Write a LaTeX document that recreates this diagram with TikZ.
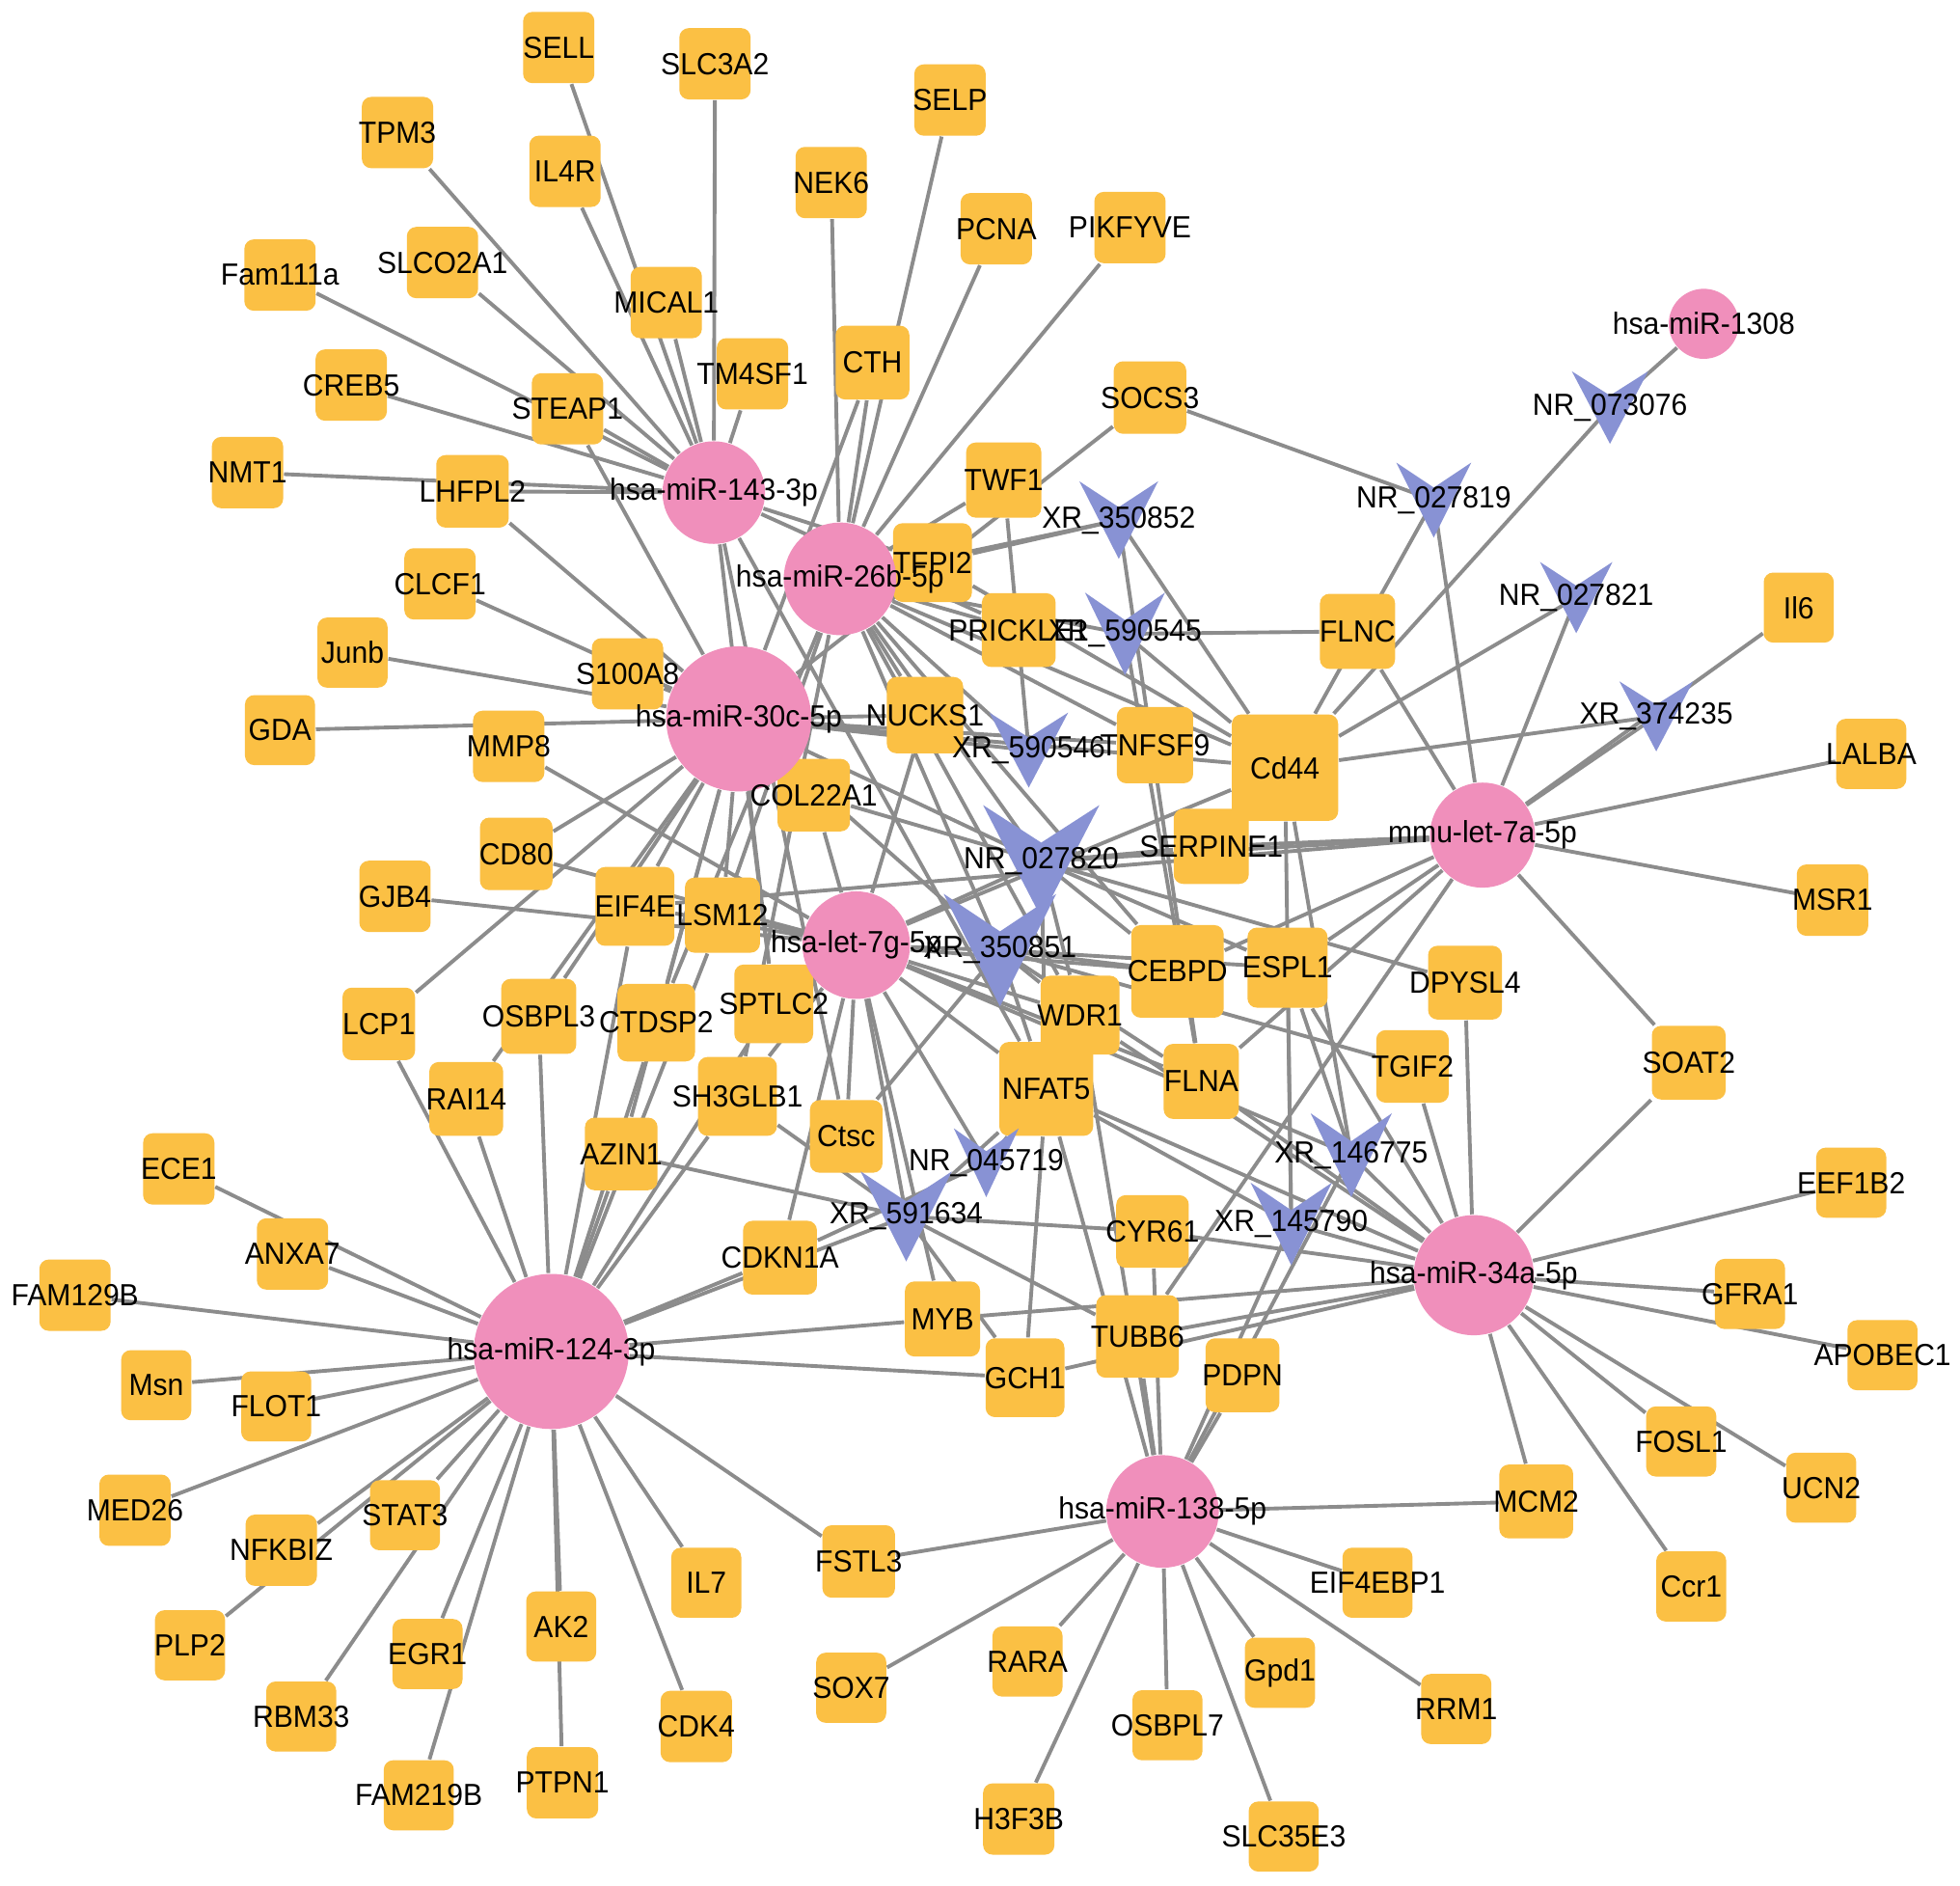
\documentclass[tikz,border=0pt]{standalone}
\usepackage{fontspec}
\setmainfont{Liberation Sans}[FakeStretch=0.95]
\pgfdeclarelayer{back}
\pgfdeclarelayer{bg}
\pgfsetlayers{back,bg,main}
\definecolor{genec}{RGB}{251,192,68}
\definecolor{mirc}{RGB}{240,143,187}
\definecolor{lncc}{RGB}{136,146,212}
\definecolor{edgec}{RGB}{140,140,140}
\newcommand\lncshape[4]{\fill[lncc] ({#1-#3/2},{#2-#4/2}) -- (#1,{#2-#4/6}) -- ({#1+#3/2},{#2-#4/2}) -- (#1,{#2+#4/2}) -- cycle;}
\def\genelist{sell/447/38/57/SELL, slc3a2/572/51/57/SLC3A2, selp/760/80/57/SELP, tpm3/318/106/57/TPM3, il4r/452/137/57/IL4R, nek6/665/146/57/NEK6, pcna/797/183/57/PCNA, pikfyve/904/182/57/PIKFYVE, fam111a/224/220/57/Fam111a, slco2a1/354/210/57/SLCO2A1, mical1/533/242/57/MICAL1, cth/698/290/59/CTH, tm4sf1/602/299/57/TM4SF1, creb5/281/308/57/CREB5, steap1/454/327/57/STEAP1, socs3/920/318/58/SOCS3, nmt1/198/378/57/NMT1, lhfpl2/378/393/58/LHFPL2, twf1/803/384/60/TWF1, tfpi2/746/450/63/TFPI2, clcf1/352/467/57/CLCF1, prickle1/815/504/59/PRICKLE1, flnc/1086/505/60/FLNC, il6/1439/486/56/Il6, junb/282/522/56/Junb, s100a8/502/539/57/S100A8, nucks1/740/572/61/NUCKS1, gda/224/584/56/GDA, mmp8/407/597/57/MMP8, tnfsf9/924/596/61/TNFSF9, cd44/1028/614/85/Cd44, lalba/1497/603/56/LALBA, col22a1/651/636/58/COL22A1, cd80/413/683/58/CD80, serpine1/969/677/60/SERPINE1, gjb4/316/717/57/GJB4, eif4e/508/725/63/EIF4E, lsm12/578/732/60/LSM12, msr1/1466/720/57/MSR1, cebpd/942/777/74/CEBPD, espl1/1030/774/64/ESPL1, dpysl4/1172/786/59/DPYSL4, lcp1/303/819/58/LCP1, osbpl3/431/813/60/OSBPL3, ctdsp2/525/818/62/CTDSP2, sptlc2/619/803/63/SPTLC2, wdr1/864/812/63/WDR1, nfat5/837/871/75/NFAT5, flna/961/865/60/FLNA, tgif2/1130/853/58/TGIF2, soat2/1351/850/59/SOAT2, rai14/373/879/59/RAI14, sh3glb1/590/877/63/SH3GLB1, ctsc/677/909/58/Ctsc, azin1/497/923/58/AZIN1, ece1/143/935/57/ECE1, eef1b2/1481/946/56/EEF1B2, cyr61/922/985/58/CYR61, cdkn1a/624/1006/59/CDKN1A, anxa7/234/1003/57/ANXA7, fam129b/60/1036/57/FAM129B, gfra1/1400/1035/56/GFRA1, myb/754/1055/60/MYB, tubb6/910/1069/66/TUBB6, apobec1/1506/1084/56/APOBEC1, msn/125/1108/56/Msn, flot1/221/1125/56/FLOT1, gch1/820/1102/63/GCH1, pdpn/994/1100/59/PDPN, fosl1/1345/1153/56/FOSL1, ucn2/1457/1190/56/UCN2, med26/108/1208/57/MED26, stat3/324/1212/56/STAT3, mcm2/1229/1201/59/MCM2, nfkbiz/225/1240/57/NFKBIZ, il7/565/1266/56/IL7, fstl3/687/1249/58/FSTL3, eif4ebp1/1102/1266/56/EIF4EBP1, ccr1/1353/1269/56/Ccr1, plp2/152/1316/56/PLP2, egr1/342/1323/56/EGR1, ak2/449/1301/56/AK2, rara/822/1329/56/RARA, gpd1/1024/1338/56/Gpd1, sox7/681/1350/56/SOX7, rbm33/241/1373/56/RBM33, cdk4/557/1381/57/CDK4, osbpl7/934/1380/56/OSBPL7, rrm1/1165/1367/56/RRM1, fam219b/335/1436/56/FAM219B, ptpn1/450/1426/57/PTPN1, h3f3b/815/1455/57/H3F3B, slc35e3/1027/1469/56/SLC35E3}
\def\mirlist{mA/571/394/41/hsa-miR-143-3p, mB/672/463/45/hsa-miR-26b-5p, mC/591/575/58/hsa-miR-30c-5p, mD/685/756/43/hsa-let-7g-5p, mE/1186/668/42/mmu-let-7a-5p, mF/1179/1020/48/hsa-miR-34a-5p, mG/441/1081/62/hsa-miR-124-3p, mH/930/1209/45/hsa-miR-138-5p, mI/1363/259/28/hsa-miR-1308}
\def\lnclist{nr073076/1288/326/61/58/NR\_073076, nr027819/1147/400/60/60/NR\_027819, xr350852/895/416/63/62/XR\_350852, nr027821/1261/478/58/57/NR\_027821, xr590545/900/507/64/66/XR\_590545, xr374235/1325/573/59/56/XR\_374235, xr590546/823/600/63/60/XR\_590546, nr027820/833/689/93/90/NR\_027820, xr350851/800/760/90/90/XR\_350851, nr045719/789/930/52/55/NR\_045719, xr591634/725/973/73/72/XR\_591634, xr146775/1081/924/65/67/XR\_146775, xr145790/1033/979/65/66/XR\_145790}
\begin{document}
\begin{tikzpicture}[x=0.01cm,y=-0.01cm,
  gn/.style={rectangle,rounded corners=0.075cm,fill=genec,inner sep=0pt,minimum size={#1*0.1mm}},
  mr/.style={circle,fill=mirc,inner sep=0pt,minimum size={#1*0.2mm}},
  vn/.style={circle,inner sep=0pt,minimum size=0pt},
  ed/.style={draw=edgec,line width=0.85pt},
  lb/.style={inner sep=0pt,font=\fontsize{6.95}{8}\selectfont,text=black}]
\useasboundingbox (0,0) rectangle (1568,1508);
\begin{pgfonlayer}{back}
\fill[white] (0,0) rectangle (1568,1508);
\end{pgfonlayer}
% nodes
\foreach \n/\x/\y/\s/\t in \genelist {\node[gn=\s] (\n) at (\x,\y) {};}
\foreach \n/\x/\y/\r/\t in \mirlist {\node[mr=\r] (\n) at (\x,\y) {};}
\foreach \n/\x/\y/\w/\h/\t in \lnclist {\node[vn] (\n) at (\x,\y) {}; \lncshape{\x}{\y}{\w}{\h}}
% edges
\begin{pgfonlayer}{bg}
\foreach \b in {sell,slc3a2,tpm3,il4r,mical1,tm4sf1,fam111a,slco2a1,creb5,steap1,nmt1,lhfpl2,sptlc2,ctsc,nfat5,tfpi2,prickle1} \draw[ed] (mA) -- (\b);
\foreach \b in {nek6,selp,pcna,pikfyve,twf1,cth,tfpi2,xr350852,prickle1,xr590545,nucks1,xr590546,nr027820,xr350851,cebpd,wdr1,ctdsp2,cd44,tnfsf9,lsm12,sh3glb1} \draw[ed] (mB) -- (\b);
\foreach \b in {clcf1,junb,s100a8,gda,cd80,lcp1,lhfpl2,steap1,socs3,cth,col22a1,nucks1,eif4e,lsm12,rai14,osbpl3,ctdsp2,xr590546,nr027820,xr350851,tnfsf9,cd44,azin1,sptlc2} \draw[ed] (mC) -- (\b);
\foreach \b in {mmp8,cd80,gjb4,eif4e,lsm12,sptlc2,sh3glb1,ctsc,cdkn1a,xr591634,myb,xr350851,nr027820,wdr1,cebpd,nfat5,col22a1,flna,xr146775,nr045719,nucks1,cd44} \draw[ed] (mD) -- (\b);
\foreach \b in {il6,xr374235,lalba,msr1,soat2,nr027819,nr027821,flnc,serpine1,espl1,cebpd,nr027820,eif4e,flna,tubb6} \draw[ed] (mE) -- (\b);
\foreach \b in {dpysl4,tgif2,eef1b2,gfra1,apobec1,fosl1,ucn2,mcm2,ccr1,soat2,myb,tubb6,gch1,cyr61,xr145790,xr146775,espl1,flna,nfat5,wdr1} \draw[ed] (mF) -- (\b);
\foreach \b in {lcp1,rai14,osbpl3,azin1,ece1,anxa7,fam129b,msn,flot1,med26,nfkbiz,plp2,stat3,rbm33,egr1,fam219b,ak2,ptpn1,cdk4,il7,fstl3,cdkn1a,xr591634,myb,gch1,sh3glb1,eif4e,ctdsp2,lsm12,sptlc2} \draw[ed] (mG) -- (\b);
\foreach \b in {fstl3,sox7,rara,h3f3b,osbpl7,slc35e3,gpd1,rrm1,eif4ebp1,mcm2,pdpn,xr145790,xr146775,tubb6,nfat5,wdr1,cyr61} \draw[ed] (mH) -- (\b);
\foreach \a/\b in {mI/nr073076,nr073076/cd44,nr027819/socs3,nr027819/cd44,nr027821/cd44,xr374235/cd44,xr350852/tfpi2,xr350852/cd44,xr350852/flna,xr590545/flnc,xr590545/flna,xr590545/cd44,xr590546/twf1,nr027820/serpine1,nr027820/cebpd,nr027820/espl1,nr027820/wdr1,nr027820/nfat5,nr027820/dpysl4,nr027820/col22a1,xr350851/cebpd,xr350851/espl1,xr350851/tgif2,xr350851/wdr1,xr350851/nfat5,xr350851/flna,xr350851/ctsc,xr591634/gch1,xr591634/tubb6,xr591634/cyr61,xr591634/sh3glb1,xr591634/azin1,xr591634/nfat5,nr045719/nfat5,nr045719/cdkn1a,xr146775/espl1,xr146775/cd44,xr145790/espl1,xr145790/cd44,xr145790/nfat5,nfat5/gch1,tfpi2/cd44} \draw[ed] (\a) -- (\b);
\end{pgfonlayer}
% labels
\foreach \n/\x/\y/\s/\t in \genelist {\node[lb] (t-\n) at (\n) {\t};}
\foreach \n/\x/\y/\r/\t in \mirlist {\node[lb] (t-\n) at (\n) {\t};}
\foreach \n/\x/\y/\w/\h/\t in \lnclist {\node[lb] (t-\n) at (\n) {\t};}
\end{tikzpicture}
\end{document}
